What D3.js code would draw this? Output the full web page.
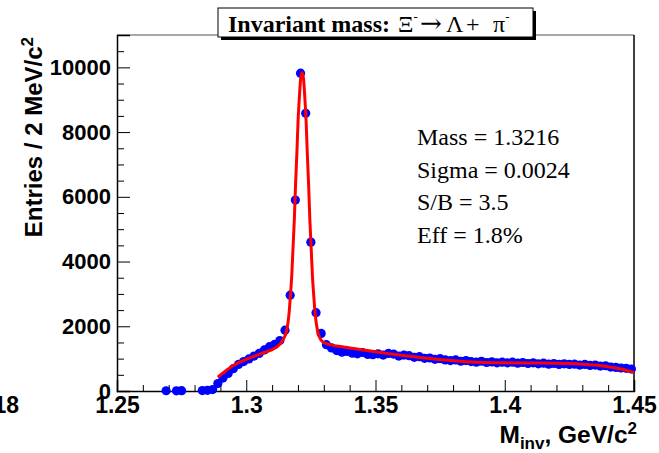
<!DOCTYPE html>
<html>
<head>
<meta charset="utf-8">
<script src="https://cdn.jsdelivr.net/npm/d3@7"></script>
<style>
  body { margin: 0; background: #fff; }
  svg { display: block; }
</style>
</head>
<body>
<script>
// histogram: 100 bins of 2 MeV from 1.25 to 1.45 (null = empty bin, not drawn)
const binLow = 1.25;
const binWidth = 0.002;
const entries = [
  null, null, null, null, null, null, null, null, null, 8,
  null, 6, 10, null, null, null, 12, 20, 45, 230,
  400, 540, 690, 820, 910, 990, 1080, 1160, 1270, 1370,
  1440, 1560, 1880, 2960, 5900, 9820, 8580, 4600, 2420, 1780,
  1430, 1330, 1250, 1200, 1220, 1170, 1150, 1190, 1130, 1120,
  1150, 1110, 1160, 1140, 1080, 1110, 1090, 1040, 1060, 1010,
  1020, 980, 1000, 960, 940, 960, 920, 940, 910, 890,
  920, 880, 900, 870, 890, 870, 890, 860, 880, 850,
  870, 840, 860, 830, 850, 820, 840, 820, 830, 800,
  820, 790, 800, 770, 780, 740, 730, 710, 700, 680
];

// fitted curve
const fitMass = [
  1.289, 1.292, 1.295, 1.298, 1.301, 1.304, 1.307, 1.310, 1.312, 1.3136,
  1.3146, 1.3156, 1.3166, 1.31705, 1.3176, 1.31805, 1.3186, 1.31905, 1.3196, 1.32005,
  1.3206, 1.32105, 1.3216, 1.32215, 1.3226, 1.32315, 1.3236, 1.32415, 1.3246, 1.32515,
  1.3256, 1.32615, 1.3266, 1.3276, 1.3286, 1.3296, 1.3316, 1.335, 1.340, 1.345,
  1.350, 1.355, 1.360, 1.365, 1.370, 1.375, 1.380, 1.385, 1.390, 1.395,
  1.400, 1.410, 1.420, 1.425, 1.430, 1.435, 1.440, 1.445, 1.450
];
const fitValue = [
  430, 620, 790, 910, 1010, 1100, 1190, 1280, 1370, 1500,
  1640, 1850, 2430, 2900, 3560, 4350, 5300, 6330, 7380, 8350,
  9140, 9650, 9830, 9650, 9140, 8350, 7380, 6330, 5300, 4350,
  3560, 2900, 2430, 1850, 1620, 1520, 1450, 1390, 1330, 1270,
  1210, 1155, 1105, 1060, 1010, 970, 935, 905, 885, 875,
  870, 865, 860, 850, 830, 800, 750, 680, 570
];

const xTicks = [1.25, 1.3, 1.35, 1.4, 1.45];
const xTickLabels = ['1.25', '1.3', '1.35', '1.4', '1.45'];
const xMinor = [1.26, 1.27, 1.28, 1.29, 1.31, 1.32, 1.33, 1.34, 1.36, 1.37, 1.38, 1.39, 1.41, 1.42, 1.43, 1.44];
const yTicks = [0, 2000, 4000, 6000, 8000, 10000];
const yTickLabels = ['0', '2000', '4000', '6000', '8000', '10000'];
const yMinor = [500, 1000, 1500, 2500, 3000, 3500, 4500, 5000, 5500, 6500, 7000, 7500, 8500, 9000, 9500, 10500];

const statLines = ['Mass = 1.3216', 'Sigma = 0.0024', 'S/B = 3.5', 'Eff = 1.8%'];

const W = 659, H = 453;
const padL = 117, padR = 634, padT = 35, padB = 391;

const svg = d3.select('body').append('svg')
  .attr('width', W)
  .attr('height', H);

const x = d3.scaleLinear().domain([1.25, 1.45]).range([padL, padR]);
const y = d3.scaleLinear().domain([0, 11000]).range([padB, padT]);

/* frame */
svg.append('line').attr('x1', padL).attr('x2', padR).attr('y1', padT).attr('y2', padT)
  .attr('stroke', '#8c8c8c').attr('stroke-width', 1.5);
svg.append('line').attr('x1', padR).attr('x2', padR).attr('y1', padT).attr('y2', padB)
  .attr('stroke', '#000').attr('stroke-width', 1.5);

/* axes, ticks pointing inside */
const xAxis = svg.append('g')
  .attr('transform', `translate(0,${padB})`)
  .call(d3.axisBottom(x).tickValues(xTicks).tickSize(-11)
    .tickFormat((d, i) => xTickLabels[i]));
svg.append('g')
  .attr('transform', `translate(0,${padB})`)
  .call(d3.axisBottom(x).tickValues(xMinor).tickSize(-6).tickFormat(''))
  .select('.domain').remove();

const yAxis = svg.append('g')
  .attr('transform', `translate(${padL},0)`)
  .call(d3.axisLeft(y).tickValues(yTicks).tickSize(-13)
    .tickFormat((d, i) => yTickLabels[i]));
svg.append('g')
  .attr('transform', `translate(${padL},0)`)
  .call(d3.axisLeft(y).tickValues(yMinor).tickSize(-7).tickFormat(''))
  .select('.domain').remove();

svg.selectAll('.domain').attr('stroke', '#000').attr('stroke-width', 1.5);
svg.selectAll('.tick line').attr('stroke', '#000').attr('stroke-width', 1);

xAxis.selectAll('text')
  .attr('y', 22).attr('dy', null)
  .attr('font-family', 'Liberation Sans, Arial, sans-serif')
  .attr('font-weight', 'bold').attr('font-size', 23).attr('fill', '#000');

yAxis.selectAll('text')
  .attr('x', -6)
  .attr('font-family', 'Liberation Sans, Arial, sans-serif')
  .attr('font-weight', 'bold').attr('font-size', 22).attr('fill', '#000');

/* stray clipped label at the far left */
svg.append('text')
  .attr('x', 19).attr('y', 413)
  .attr('text-anchor', 'end')
  .attr('font-family', 'Liberation Sans, Arial, sans-serif')
  .attr('font-weight', 'bold').attr('font-size', 23)
  .text('18');

/* axis titles */
const yTitle = svg.append('text')
  .attr('transform', `translate(42,${padT + 2}) rotate(-90)`)
  .attr('text-anchor', 'end')
  .attr('font-family', 'Liberation Sans, Arial, sans-serif')
  .attr('font-weight', 'bold').attr('font-size', 24);
yTitle.append('tspan').text('Entries / 2 MeV/c');
yTitle.append('tspan').attr('dy', -9).attr('font-size', 17).text('2');

const xTitle = svg.append('text')
  .attr('x', 637).attr('y', 443)
  .attr('text-anchor', 'end')
  .attr('font-family', 'Liberation Sans, Arial, sans-serif')
  .attr('font-weight', 'bold').attr('font-size', 24.5);
xTitle.append('tspan').text('M');
xTitle.append('tspan').attr('dy', 6).attr('font-size', 17).text('inv');
xTitle.append('tspan').attr('dy', -6).text(', GeV/c');
xTitle.append('tspan').attr('dy', -9).attr('font-size', 17).text('2');

/* data points */
const points = entries
  .map((v, i) => ({ m: binLow + binWidth * (i + 0.5), v: v }))
  .filter(d => d.v !== null);

svg.append('g')
  .selectAll('circle')
  .data(points)
  .join('circle')
  .attr('cx', d => x(d.m))
  .attr('cy', d => y(d.v))
  .attr('r', 4.6)
  .attr('fill', '#0000ff');

/* fit */
const fit = fitMass.map((m, i) => ({ m: m, v: fitValue[i] }));
svg.append('path')
  .datum(fit)
  .attr('fill', 'none')
  .attr('stroke', '#ff0000')
  .attr('stroke-width', 3)
  .attr('d', d3.line().x(d => x(d.m)).y(d => y(d.v)).curve(d3.curveMonotoneX));

/* fit results */
svg.append('g')
  .selectAll('text')
  .data(statLines)
  .join('text')
  .attr('x', 417)
  .attr('y', (d, i) => 145 + i * 32.7)
  .attr('font-family', 'Liberation Serif, Times New Roman, serif')
  .attr('font-size', 24)
  .text(d => d);

/* title box */
svg.append('rect')
  .attr('x', 221).attr('y', 11).attr('width', 315).attr('height', 29)
  .attr('fill', '#000');
svg.append('rect')
  .attr('x', 218).attr('y', 8).attr('width', 315).attr('height', 29)
  .attr('fill', '#fff').attr('stroke', '#000').attr('stroke-width', 1);

const title = svg.append('text')
  .attr('x', 228).attr('y', 32)
  .attr('font-family', 'Liberation Serif, Times New Roman, serif')
  .attr('font-size', 24);
title.append('tspan').attr('font-weight', 'bold').text('Invariant mass:');
title.append('tspan').attr('x', 398).text('\u039E');
title.append('tspan').attr('dy', -11).attr('font-size', 13).text('-');
title.append('tspan').attr('x', 420).attr('dy', 11)
  .attr('font-family', 'DejaVu Serif, serif').attr('font-size', 26).text('\u2192');
title.append('tspan').attr('x', 446).text('\u039B');
title.append('tspan').attr('x', 466).text('+');
title.append('tspan').attr('x', 493).text('\u03C0');
title.append('tspan').attr('dy', -11).attr('font-size', 13).text('-');
</script>
</body>
</html>
